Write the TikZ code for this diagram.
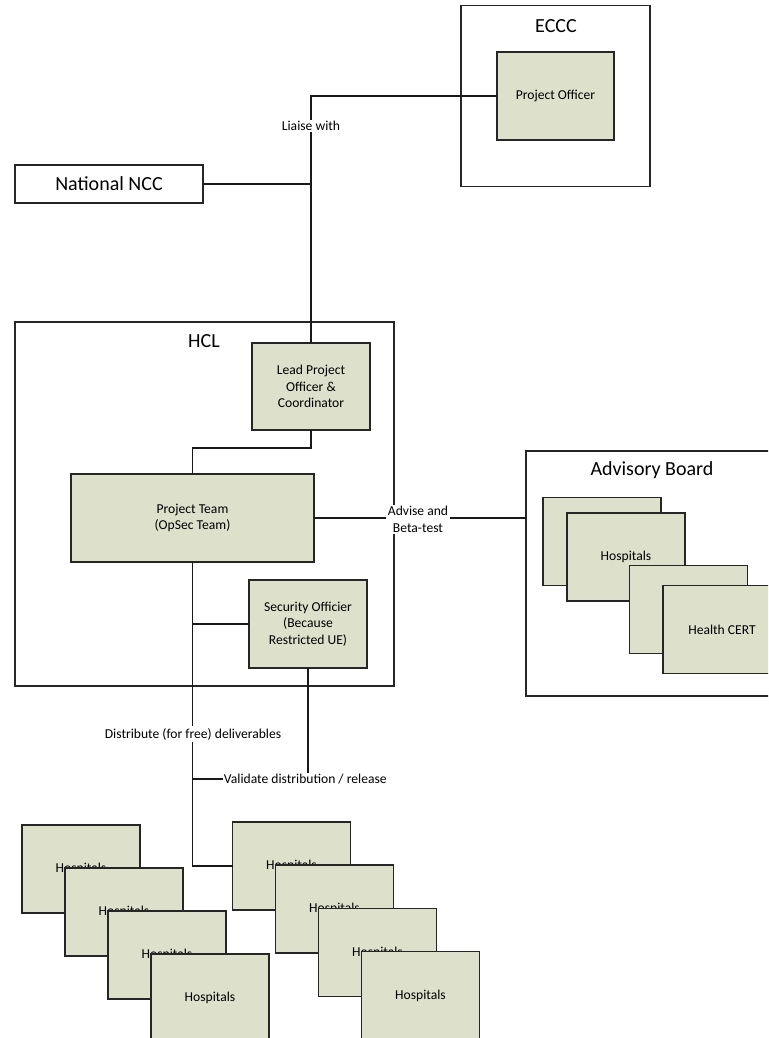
\documentclass[tikz,border=0pt]{standalone}
\usepackage{fontspec}
\setmainfont{Carlito}
\definecolor{boxfill}{RGB}{221,225,204}
\tikzset{
  sz/.style 2 args={minimum width=#1*0.75pt, minimum height=#2*0.75pt},
  frame/.style={draw=black!85, fill=white, line width=0.9pt, inner sep=0pt, outer sep=0pt},
  unit/.style={draw=black!85, fill=boxfill, line width=0.9pt, inner sep=0pt, outer sep=0pt,
    align=center, font=\fontsize{10.2}{12.4}\selectfont},
  hosp/.style={unit, sz={118}{88}},
  title/.style={font=\fontsize{15}{18}\selectfont},
  lbl/.style={fill=white, inner sep=1.2pt, align=center, font=\fontsize{10.2}{12.6}\selectfont},
  link/.style={line width=0.9pt, draw=black!90}
}
\begin{document}
\begin{tikzpicture}[x=0.75pt, y=-0.75pt]
  \useasboundingbox (0,0) rectangle (768,1038);
  \clip (0,0) rectangle (768,1038);

  % ECCC and national NCC
  \node[frame, sz={189}{181}] (eccc) at (555.5,96) {};
  \node[title] (ecccname) at (556,26) {ECCC};
  \node[unit, sz={117}{88}] (po) at (555.5,96) {Project Officer};
  \node[frame, sz={188}{38}, title] (ncc) at (109,184) {National NCC};

  % HCL
  \node[frame, sz={379}{364}] (hcl) at (204.5,504) {};
  \node[title] (hclname) at (204,341) {HCL};
  \node[unit, sz={118}{87}] (lead) at (311,386.5) {Lead Project\\Officer \&\\Coordinator};
  \node[unit, sz={243}{88}] (team) at (192.5,518) {Project Team\\(OpSec Team)};
  \node[unit, sz={118}{88}] (sec) at (308,624) {Security Officier\\(Because\\Restricted UE)};

  % advisory board
  \node[frame, sz={252}{245}] (adv) at (652,573.5) {};
  \node[title] (advname) at (652,470) {Advisory Board};
  \node[hosp] (a1) at (602,541.5) {Hospitals};
  \node[hosp] (a2) at (626,557) {Hospitals};
  \node[hosp] (a3) at (688.5,609.5) {Hospitals};
  \node[hosp] (a4) at (722,629.5) {Health CERT};

  % hospitals receiving the deliverables
  \node[hosp] (l1) at (81,869) {Hospitals};
  \node[hosp] (l2) at (124,912) {Hospitals};
  \node[hosp] (l3) at (167,955) {Hospitals};
  \node[hosp] (l4) at (210,998) {Hospitals};
  \node[hosp] (r1) at (291.5,866) {Hospitals};
  \node[hosp] (r2) at (334.5,909) {Hospitals};
  \node[hosp] (r3) at (377.5,952.5) {Hospitals};
  \node[hosp] (r4) at (420.5,995.5) {Hospitals};

  % connectors
  \draw[link] (lead.north) |- (po.west);
  \draw[link] (ncc.east) -- (ncc.east -| lead.north);
  \draw[link] (lead.south) -- ++(0,18) -| (team.north);
  \draw[link] (team.east) -- (team.east -| adv.west);
  \draw[link] (team.south) |- (r1.west);
  \draw[link] (sec.west) -- (sec.west -| team.south);

  \node[lbl] (liaise) at (311,126) {Liaise with};
  \node[lbl] (advise) at (418,519.5) {Advise and\\Beta-test};
  \node[lbl] (distribute) at (193,734) {Distribute (for free) deliverables};
  \node[lbl, anchor=west, inner sep=0.5pt] (validate) at (223,779) {Validate distribution / release};
  \draw[link] (validate.west) -- (validate.west -| team.south);
  \draw[link] (sec.south) -- (sec.south |- validate.north);
\end{tikzpicture}
\end{document}
